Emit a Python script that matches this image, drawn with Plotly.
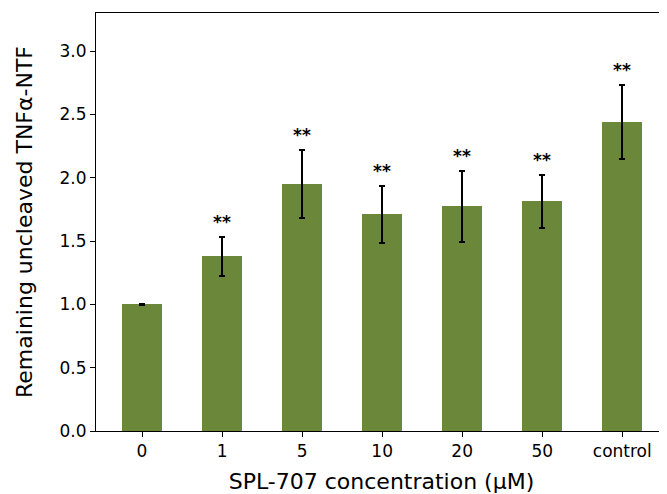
import plotly.graph_objects as go

categories = ["0", "1", "5", "10", "20", "50", "control"]
values = [1.0, 1.38, 1.95, 1.71, 1.775, 1.815, 2.44]
errors = [0.005, 0.155, 0.27, 0.225, 0.28, 0.21, 0.295]
stars = ["", "**", "**", "**", "**", "**", "**"]
y_ticks = [0.0, 0.5, 1.0, 1.5, 2.0, 2.5, 3.0]

xpos = list(range(len(categories)))
bar_color = "#6a873a"

fig = go.Figure()
fig.add_trace(go.Bar(
    x=xpos, y=values, width=0.5,
    marker=dict(color=bar_color, line=dict(width=0)),
    error_y=dict(type="data", array=errors, visible=True, color="black",
                 thickness=2, width=3),
    showlegend=False,
))

for xi, v, e, s in zip(xpos, values, errors, stars):
    if s:
        fig.add_annotation(x=xi, y=v + e, text="<b>" + s + "</b>", showarrow=False,
                           yanchor="bottom", yshift=3,
                           font=dict(family="DejaVu Sans", size=17, color="black"))

# the page body has an 8px margin; compensate so the plot lands where the reference has it
fig.update_layout(
    width=659, height=486,
    margin=dict(l=88, r=0, t=5, b=63),
    plot_bgcolor="white", paper_bgcolor="white",
    font=dict(family="DejaVu Sans", size=17, color="black"),
    bargap=0,
)
fig.update_xaxes(
    range=[-0.575, 6.559],
    tickvals=xpos, ticktext=categories,
    showline=True, linecolor="black", linewidth=1, mirror=True,
    ticks="outside", ticklen=5, tickwidth=1, tickcolor="black",
    showgrid=False, zeroline=False,
    title=dict(text="SPL-707 concentration (μM)", font=dict(size=22), standoff=14),
)
fig.update_yaxes(
    range=[0, 3.3],
    tickvals=y_ticks, ticktext=[f"{t:.1f}" for t in y_ticks],
    showline=True, linecolor="black", linewidth=1, mirror=False,
    ticks="outside", ticklen=5, tickwidth=1, tickcolor="black",
    showgrid=False, zeroline=False,
    title=dict(text="Remaining uncleaved TNFα-NTF", font=dict(size=22), standoff=20),
)

fig.write_html("out.html")
